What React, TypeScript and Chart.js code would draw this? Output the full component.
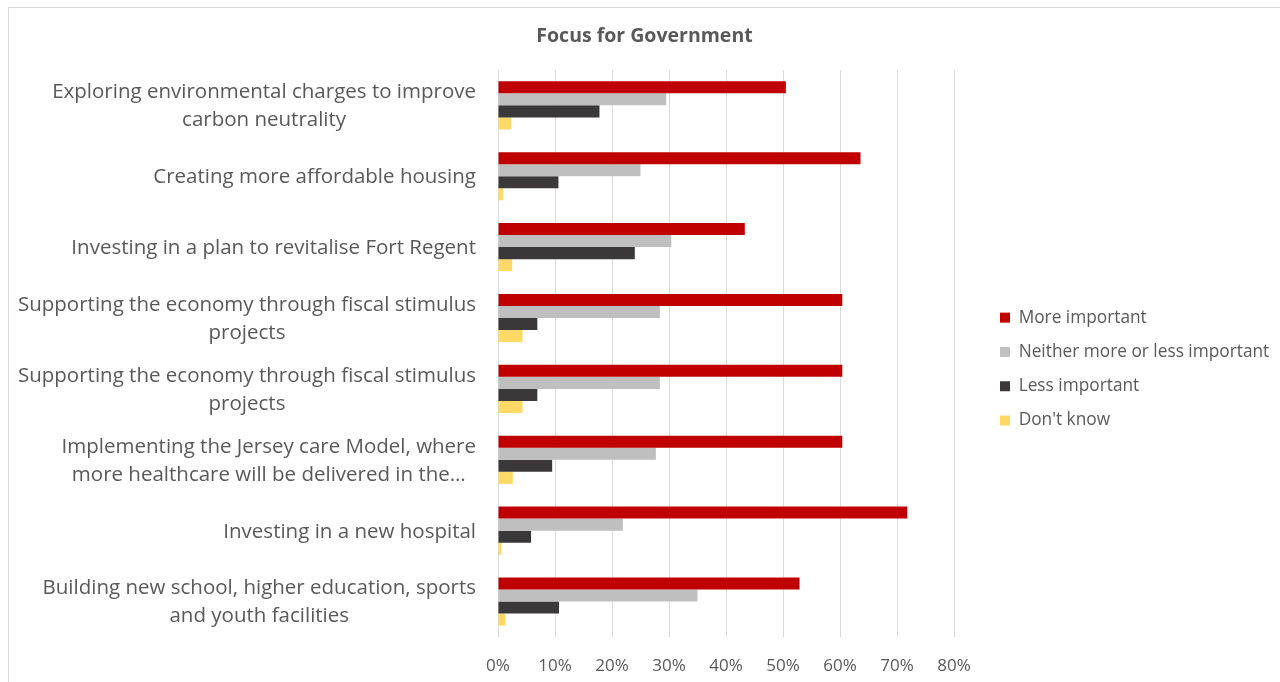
import React, { useEffect, useRef } from "react";
import { Chart, registerables } from "chart.js";

Chart.register(...registerables);

const TITLE = "Focus for Government";

const CATEGORY_LINES: string[][] = [
  ["Exploring environmental charges to improve", "carbon neutrality"],
  ["Creating more affordable housing"],
  ["Investing in a plan to revitalise Fort Regent"],
  ["Supporting the economy through fiscal stimulus", "projects"],
  ["Supporting the economy through fiscal stimulus", "projects"],
  ["Implementing the Jersey care Model, where", "more healthcare will be delivered in the…"],
  ["Investing in a new hospital"],
  ["Building new school, higher education, sports", "and youth facilities"],
];

const SERIES_NAMES = [
  "More important",
  "Neither more or less important",
  "Less important",
  "Don't know",
];

const MORE_IMPORTANT = [50.5, 63.6, 43.3, 60.4, 60.4, 60.4, 71.8, 52.9];
const NEITHER = [29.5, 25.0, 30.4, 28.4, 28.4, 27.7, 21.9, 35.0];
const LESS_IMPORTANT = [17.8, 10.6, 24.0, 6.9, 6.9, 9.5, 5.8, 10.7];
const DONT_KNOW = [2.3, 0.9, 2.5, 4.3, 4.3, 2.6, 0.6, 1.3];

const X_TICKS_MAX = 80;
const X_TICKS_STEP = 10;

const COLORS = ["#C00000", "#BFBFBF", "#3A3838", "#FFD966"];
const TEXT = "#595959";
const FONT = "'Open Sans', Lato, sans-serif";

const CANVAS_W = 1271;
const CANVAS_H = 674;
const Y_AXIS_W = 489;
const X_AXIS_H = 45;
const LEGEND_W = 326;
const LEGEND_FONT = 17.3;
const LEGEND_PAD = 17;
const LEGEND_X = 991;
const LEGEND_FIRST_Y = 301;
const LABEL_RIGHT = 467;
const LABEL_FONT_SIZE = 20.5;
const LABEL_LINE_H = 28;
const LABEL_Y_SHIFT = 1;

const layoutPlugin = {
  id: "layoutTweaks",
  beforeLayout(chart: any) {
    const lg = chart.legend;
    if (lg && !lg.__patched) {
      const orig = lg.fit.bind(lg);
      lg.fit = function () {
        orig();
        this.width = LEGEND_W;
      };
      lg.__patched = true;
    }
  },
  afterLayout(chart: any) {
    const lg = chart.legend;
    if (lg) {
      const w = lg.width;
      const h = lg.height;
      lg.left = LEGEND_X - LEGEND_PAD;
      lg.right = lg.left + w;
      lg.top = LEGEND_FIRST_Y - LEGEND_PAD;
      lg.bottom = lg.top + h;
    }
  },
  afterDraw(chart: any) {
    const ctx = chart.ctx;
    const y = chart.scales.y;
    ctx.save();
    ctx.font = `${LABEL_FONT_SIZE}px ${FONT}`;
    ctx.fillStyle = TEXT;
    ctx.textAlign = "center";
    ctx.textBaseline = "middle";
    CATEGORY_LINES.forEach((lines, i) => {
      const cy = y.getPixelForValue(i) + LABEL_Y_SHIFT;
      const maxW = Math.max(...lines.map((l) => ctx.measureText(l).width));
      const cx = LABEL_RIGHT - maxW / 2;
      lines.forEach((line, j) => {
        const ly = cy + (j - (lines.length - 1) / 2) * LABEL_LINE_H;
        ctx.fillText(line, cx, ly);
      });
    });
    ctx.restore();
  },
};

export default function App() {
  const ref = useRef<HTMLCanvasElement | null>(null);

  useEffect(() => {
    if (!ref.current) return;
    const seriesData = [MORE_IMPORTANT, NEITHER, LESS_IMPORTANT, DONT_KNOW];
    const chart = new Chart(ref.current, {
      type: "bar",
      data: {
        labels: CATEGORY_LINES.map((l, i) => l.join(" ") + "#" + i),
        datasets: SERIES_NAMES.map((name, k) => ({
          label: name,
          data: seriesData[k],
          backgroundColor: COLORS[k],
          borderWidth: 0,
          categoryPercentage: 0.68,
          barPercentage: 1.0,
        })),
      },
      options: {
        indexAxis: "y",
        responsive: false,
        animation: false,
        layout: { padding: 0 },
        plugins: {
          title: {
            display: true,
            text: TITLE,
            color: TEXT,
            font: { family: FONT, size: 19.5, weight: "bold", lineHeight: 1.2 },
            padding: { top: 16.3, bottom: 22.2 },
          },
          legend: {
            display: true,
            position: "right",
            align: "start",
            labels: {
              boxWidth: 10,
              boxHeight: 10,
              padding: LEGEND_PAD,
              color: TEXT,
              font: { family: FONT, size: LEGEND_FONT },
            },
          },
          tooltip: { enabled: false },
        },
        scales: {
          x: {
            type: "linear",
            min: 0,
            max: X_TICKS_MAX,
            grid: { color: "#D9D9D9", lineWidth: 1, drawTicks: false },
            border: { display: false },
            ticks: {
              stepSize: X_TICKS_STEP,
              padding: 19,
              color: TEXT,
              font: { family: FONT, size: 17 },
              callback: (v: any) => `${v}%`,
            },
            afterFit: (s: any) => {
              s.height = X_AXIS_H;
            },
          },
          y: {
            type: "category",
            grid: { display: false },
            border: { display: false },
            ticks: { display: false },
            afterFit: (s: any) => {
              s.width = Y_AXIS_W;
            },
          },
        },
      },
      plugins: [layoutPlugin],
    });
    return () => chart.destroy();
  }, []);

  return (
    <div
      style={{
        position: "fixed",
        left: 8,
        top: 7,
        width: 1272,
        height: 675,
        overflow: "hidden",
        background: "#fff",
      }}
    >
      <div
        style={{
          width: 1290,
          height: 700,
          border: "1px solid #D9D9D9",
          boxSizing: "border-box",
        }}
      >
        <canvas
          ref={ref}
          width={CANVAS_W}
          height={CANVAS_H}
          style={{ display: "block", width: CANVAS_W, height: CANVAS_H }}
        />
      </div>
    </div>
  );
}
